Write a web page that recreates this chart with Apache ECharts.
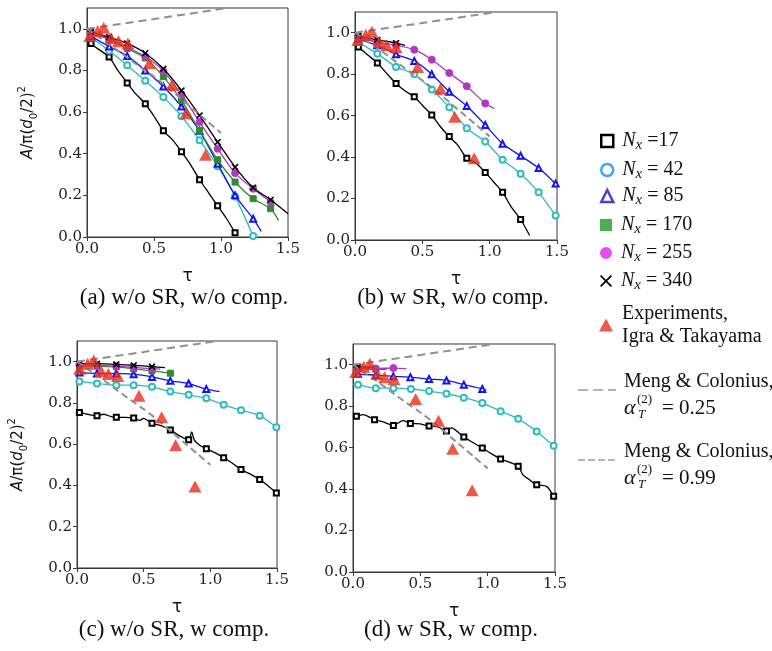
<!DOCTYPE html>
<html><head><meta charset="utf-8">
<script src="https://cdn.jsdelivr.net/npm/echarts@6/dist/echarts.min.js"></script>
<style>html,body{margin:0;padding:0;background:#fff}#c{width:772px;height:651px}</style>
</head><body><div id="c"></div>
<script>
// ---------- tick labels ----------
const xTicks = [0, 0.5, 1.0, 1.5];
const yTicks = [0, 0.2, 0.4, 0.6, 0.8, 1.0];
const captions = ['(a) w/o SR, w/o comp.', '(b) w SR, w/o comp.', '(c) w/o SR, w comp.', '(d) w SR, w comp.'];

// ---------- shared reference data [tau, A] ----------
const experiments = [[0.02,0.965],[0.08,0.99],[0.125,1.005],[0.18,0.955],[0.235,0.94],[0.305,0.93],[0.465,0.835],[0.635,0.73],[0.74,0.595],[0.885,0.395]];
const mengAlpha025 = [[0,1.0],[0.5,1.047],[1.05,1.1]];
const mengAlpha099 = [[0,1.0],[0.1,0.955],[0.2,0.91],[0.3,0.862],[0.4,0.815],[0.5,0.77],[0.6,0.72],[0.7,0.665],[0.8,0.61],[0.9,0.555],[1.0,0.5]];

// third value 0 = point without marker
// ---------- panel (a) ----------
const a_N17 = [[0,0.95,0],[0.03,0.93],[0.09,0.90,0],[0.165,0.865],[0.23,0.80,0],[0.30,0.74],[0.36,0.69,0],[0.435,0.64],[0.50,0.58,0],[0.57,0.51],[0.64,0.465,0],[0.705,0.41],[0.77,0.35,0],[0.84,0.275],[0.91,0.21,0],[0.975,0.15],[1.04,0.09,0],[1.105,0.02]];
const a_N42 = [[0,0.98,0],[0.03,0.96],[0.165,0.895],[0.30,0.825],[0.435,0.75],[0.57,0.672],[0.705,0.58],[0.84,0.465],[0.975,0.34],[1.105,0.195],[1.24,0.005]];
const a_N85 = [[0,0.98,0],[0.03,0.965],[0.165,0.915],[0.30,0.87],[0.435,0.80],[0.57,0.723],[0.705,0.627],[0.84,0.51],[0.975,0.352],[1.105,0.20],[1.24,0.088],[1.30,0.027,0]];
const a_N170 = [[0,0.98,0],[0.03,0.975],[0.165,0.95],[0.30,0.905],[0.435,0.86],[0.57,0.77],[0.705,0.656],[0.84,0.512],[0.975,0.371],[1.105,0.264],[1.24,0.184],[1.37,0.136],[1.43,0.08,0]];
const a_N255 = [[0,0.985,0],[0.03,0.98],[0.165,0.955],[0.30,0.912],[0.435,0.867],[0.57,0.797],[0.705,0.685],[0.84,0.552],[0.975,0.424],[1.105,0.307],[1.24,0.232],[1.37,0.168],[1.40,0.15,0]];
const a_N340 = [[0,0.99,0],[0.03,0.985],[0.165,0.96],[0.30,0.93],[0.435,0.883],[0.57,0.808],[0.705,0.704],[0.84,0.584],[0.975,0.456],[1.105,0.336],[1.24,0.237],[1.37,0.179],[1.5,0.112,0]];

// ---------- panel (b) ----------
const b_N17 = [[0,0.95,0],[0.025,0.931],[0.10,0.89,0],[0.166,0.854],[0.24,0.80,0],[0.305,0.755],[0.37,0.72,0],[0.44,0.691],[0.50,0.65,0],[0.57,0.603],[0.63,0.55,0],[0.70,0.499],[0.76,0.46,0],[0.83,0.395],[0.90,0.37,0],[0.967,0.326],[1.03,0.28,0],[1.096,0.23],[1.16,0.16,0],[1.23,0.099],[1.297,0.022,0]];
const b_N42 = [[0,0.97,0],[0.025,0.955],[0.166,0.899],[0.305,0.835],[0.44,0.80],[0.57,0.726],[0.70,0.64],[0.83,0.539],[0.967,0.475],[1.096,0.387],[1.23,0.32],[1.364,0.23],[1.49,0.118],[1.5,0.11,0]];
const b_N85 = [[0,0.98,0],[0.025,0.97],[0.166,0.939],[0.305,0.896],[0.44,0.864],[0.57,0.80],[0.70,0.715],[0.83,0.646],[0.967,0.555],[1.096,0.464],[1.23,0.406],[1.364,0.347],[1.49,0.272],[1.5,0.265,0]];
const b_N170 = [[0,0.98,0],[0.025,0.975],[0.166,0.955],[0.25,0.945,0]];
const b_N255 = [[0,0.985,0],[0.025,0.98],[0.166,0.955],[0.305,0.939],[0.44,0.918],[0.57,0.870],[0.70,0.806],[0.83,0.742],[0.967,0.659],[1.034,0.635,0]];
const b_N340 = [[0,0.99,0],[0.025,0.985],[0.166,0.966],[0.305,0.95],[0.372,0.939,0]];

// ---------- panel (c) ----------
const c_N17 = [[0,0.75,0],[0.018,0.754],[0.08,0.745,0],[0.15,0.738],[0.2,0.745,0],[0.25,0.735,0],[0.295,0.73],[0.36,0.73,0],[0.425,0.727],[0.47,0.715,0],[0.5,0.725,0],[0.5625,0.701],[0.63,0.69,0],[0.70,0.669],[0.77,0.64,0],[0.8375,0.621],[0.86,0.66,0],[0.88,0.62,0],[0.92,0.595,0],[0.97,0.578],[1.03,0.56,0],[1.10,0.534],[1.16,0.51,0],[1.23,0.477],[1.30,0.455,0],[1.37,0.429],[1.43,0.40,0],[1.495,0.364]];
const c_N42 = [[0,0.905,0],[0.018,0.904],[0.15,0.894],[0.295,0.886],[0.425,0.886],[0.5625,0.878],[0.70,0.855],[0.8375,0.839],[0.97,0.822],[1.10,0.791],[1.23,0.765],[1.37,0.738],[1.495,0.682]];
const c_N85 = [[0,0.95,0],[0.018,0.947],[0.15,0.943],[0.295,0.942],[0.425,0.939],[0.5625,0.926],[0.70,0.907],[0.8375,0.894],[0.97,0.867],[1.07,0.855,0]];
const c_N170 = [[0,0.98,0],[0.018,0.98],[0.15,0.978],[0.295,0.975],[0.425,0.965],[0.5625,0.955],[0.70,0.944]];
const c_N255 = [[0,0.985,0],[0.018,0.985],[0.15,0.982],[0.295,0.978],[0.425,0.972],[0.5625,0.966],[0.625,0.963,0]];
const c_N340 = [[0,0.99,0],[0.018,0.99],[0.15,0.99],[0.295,0.987],[0.425,0.982],[0.5625,0.976],[0.66,0.971,0]];

// ---------- panel (d) ----------
const d_N17 = [[0,0.75,0],[0.025,0.751],[0.075,0.759,0],[0.16,0.735],[0.22,0.725,0],[0.30,0.707],[0.372,0.73,0],[0.426,0.717],[0.5,0.715,0],[0.565,0.704],[0.63,0.70,0],[0.694,0.680],[0.73,0.695,0],[0.823,0.651],[0.89,0.625,0],[0.96,0.598],[1.03,0.57,0],[1.096,0.545],[1.16,0.53,0],[1.227,0.51],[1.26,0.47,0],[1.30,0.45,0],[1.364,0.421],[1.438,0.413,0],[1.49,0.365]];
const d_N42 = [[0,0.905,0],[0.037,0.904],[0.169,0.887],[0.30,0.887],[0.43,0.883],[0.565,0.873],[0.694,0.86],[0.823,0.841],[0.96,0.815],[1.096,0.776],[1.227,0.739],[1.364,0.678],[1.49,0.609],[1.5,0.605,0]];
const d_N85 = [[0,0.96,0],[0.037,0.955],[0.169,0.95],[0.30,0.944],[0.426,0.94],[0.565,0.931],[0.694,0.924],[0.823,0.904],[0.96,0.883],[0.99,0.876,0]];
const d_N170 = [[0,0.98,0],[0.037,0.98],[0.169,0.978],[0.25,0.977,0]];
const d_N255 = [[0,0.985,0],[0.037,0.985],[0.169,0.982],[0.30,0.984],[0.397,0.981,0]];
const d_N340 = [[0,0.99,0],[0.037,0.99],[0.15,0.988,0]];

const panels = [
  [a_N17, a_N42, a_N85, a_N170, a_N255, a_N340],
  [b_N17, b_N42, b_N85, b_N170, b_N255, b_N340],
  [c_N17, c_N42, c_N85, c_N170, c_N255, c_N340],
  [d_N17, d_N42, d_N85, d_N170, d_N255, d_N340]
];

const names = ['Nx17','Nx42','Nx85','Nx170','Nx255','Nx340'];
const crossPath = 'path://M0,1 L1,0 L5,4 L9,0 L10,1 L6,5 L10,9 L9,10 L5,6 L1,10 L0,9 L4,5 Z';
const styles = [
  {color:'#000000', symbol:'emptyRect', size:5},
  {color:'#2fbcc0', symbol:'emptyCircle', size:6},
  {color:'#1414f0', symbol:'emptyTriangle', size:6},
  {color:'#2e8b2e', symbol:'rect', size:6},
  {color:'#b437c2', symbol:'circle', size:7},
  {color:'#000000', symbol:crossPath, size:6}
];

const grids = [
  {left:87, top:8, width:201, height:229},
  {left:355, top:12, width:202, height:228},
  {left:77, top:341, width:200, height:227},
  {left:353, top:344, width:202, height:228}
];

const axisColor = '#3a3a3a';
const fmt = v => v.toFixed(1);
const xAxes = grids.map((g,i)=>({
  type:'value', gridIndex:i, min:0, max:1.5, interval:0.5,
  name:'τ', nameLocation:'middle', nameGap:31,
  nameTextStyle:{fontFamily:'DejaVu Sans', fontSize:17, color:'#111'},
  axisLine:{show:true, lineStyle:{color:axisColor, width:1}},
  axisTick:{show:true, inside:false, length:4, lineStyle:{color:axisColor}, customValues:xTicks},
  axisLabel:{fontFamily:'DejaVu Serif', fontSize:15, color:'#222', margin:5, formatter:fmt, customValues:xTicks},
  splitLine:{show:false}
}));
const yAxes = grids.map((g,i)=>({
  type:'value', gridIndex:i, min:0, max:1.1, interval:0.2,
  name:(i===0||i===2) ? '{i|A}/π({i|d}{s|0}/2){p|2}' : '',
  nameLocation:'middle', nameGap: 48, nameRotate:90,
  nameTextStyle:{fontFamily:'DejaVu Sans', fontSize:15, color:'#111', lineHeight:22,
    rich:{i:{fontFamily:'DejaVu Sans', fontStyle:'italic', fontSize:15, lineHeight:22},
          s:{fontFamily:'DejaVu Sans', fontSize:10, lineHeight:10, verticalAlign:'bottom'},
          p:{fontFamily:'DejaVu Sans', fontSize:10, lineHeight:12, verticalAlign:'top'}}},
  axisLine:{show:true, lineStyle:{color:axisColor, width:1}},
  axisTick:{show:true, inside:false, length:4, lineStyle:{color:axisColor}, customValues:yTicks},
  axisLabel:{fontFamily:'DejaVu Serif', fontSize:15, color:'#222', margin:5, formatter:fmt, customValues:yTicks},
  splitLine:{show:false}
}));

const series = [];
panels.forEach((curves, gi) => {
  curves.forEach((data, k) => {
    const st = styles[k];
    series.push({
      type:'line', name:names[k], xAxisIndex:gi, yAxisIndex:gi, data:data,
      smooth:0.25, showAllSymbol:true, symbol:st.symbol,
      symbolSize:(v)=> (v.length>2 && v[2]===0) ? 0 : st.size,
      lineStyle:{color:st.color, width:1.3},
      itemStyle:{color:st.color, borderColor:st.color, borderWidth:1},
      z:2+k, silent:true
    });
  });
  series.push({type:'line', name:'meng025', xAxisIndex:gi, yAxisIndex:gi, data:mengAlpha025, symbol:'none',
    lineStyle:{color:'#8f8f8f', width:2, type:[8,5]}, z:9, silent:true});
  series.push({type:'line', name:'meng099', xAxisIndex:gi, yAxisIndex:gi, data:mengAlpha099, symbol:'none', smooth:0.2,
    lineStyle:{color:'#8f8f8f', width:2, type:[7,4]}, z:9, silent:true});
  series.push({type:'scatter', name:'exp', xAxisIndex:gi, yAxisIndex:gi, data:experiments, symbol:'triangle', symbolSize:[13,12],
    itemStyle:{color:'#e8301c'}, z:12, silent:true});
});

// ---------- legend ----------
const legendLabels = {
  Nx17:'{i|N}{s|x}{t| =17}', Nx42:'{i|N}{s|x}{t| = 42}', Nx85:'{i|N}{s|x}{t| = 85}',
  Nx170:'{i|N}{s|x}{t| = 170}', Nx255:'{i|N}{s|x}{t| = 255}', Nx340:'{i|N}{s|x}{t| = 340}',
  exp:'Experiments,\nIgra & Takayama'
};
const legendIcons = [
  {name:'Nx17', icon:'rect', itemStyle:{color:'#ffffff', borderColor:'#000', borderWidth:2.5}},
  {name:'Nx42', icon:'circle', itemStyle:{color:'#ffffff', borderColor:'#3ea8f2', borderWidth:2.5}},
  {name:'Nx85', icon:'triangle', itemStyle:{color:'#ffffff', borderColor:'#4a3ed8', borderWidth:2.5}},
  {name:'Nx170', icon:'rect', itemStyle:{color:'#4caf50', borderWidth:0}},
  {name:'Nx255', icon:'circle', itemStyle:{color:'#e74ef2', borderWidth:0}},
  {name:'Nx340', icon:crossPath, itemStyle:{color:'#000', borderWidth:0}},
  {name:'exp', icon:'triangle', itemStyle:{color:'#e8301c', borderWidth:0}}
];
const legendRowY = [141, 170, 196, 225, 253, 281, 325];
const legendTxt = {fontFamily:'Liberation Serif', fontSize:20, color:'#111', lineHeight:23, padding:[0,0,0,4],
  rich:{i:{fontFamily:'Liberation Serif', fontStyle:'italic', fontSize:20, lineHeight:24},
        s:{fontFamily:'Liberation Serif', fontStyle:'italic', fontSize:15, lineHeight:14, verticalAlign:'bottom'},
        t:{fontFamily:'Liberation Serif', fontSize:20, lineHeight:24}}};
const legends = legendIcons.map((it, i) => {
  const big = it.name === 'exp';
  const h = big ? 46 : 24;
  return {
    left: big ? 599 : 600, top: legendRowY[i] - h/2, padding:0, orient:'vertical', selectedMode:false,
    itemWidth: big ? 14 : 12, itemHeight: big ? 13 : 12,
    data:[it], formatter:(n)=>legendLabels[n], textStyle:legendTxt
  };
});

// ---------- graphics: captions + Meng legend entries ----------
const graphic = [];
const capPos = [[184,298],[453,298],[174,630],[451,630]];
captions.forEach((t,i)=>graphic.push({type:'text', x:capPos[i][0], y:capPos[i][1],
  style:{text:t, font:'23px "Liberation Serif"', fill:'#111', align:'center', verticalAlign:'middle'}}));
const mengEntries = [{y:382, dash:[10,5], val:'= 0.25', ly:390}, {y:452, dash:[7,3], val:'= 0.99', ly:460}];
mengEntries.forEach(m=>{
  graphic.push({type:'line', shape:{x1:578, y1:m.ly, x2:616, y2:m.ly}, style:{stroke:'#9a9a9a', lineWidth:1.5, lineDash:m.dash}});
  graphic.push({type:'text', x:624, y:m.y, style:{text:'Meng & Colonius,', font:'20px "Liberation Serif"', fill:'#111', align:'left', verticalAlign:'middle'}});
  graphic.push({type:'text', x:624, y:m.y+26, style:{text:'α', font:'italic 22px "Liberation Serif"', fill:'#111', align:'left', verticalAlign:'middle'}});
  graphic.push({type:'text', x:638, y:m.y+33, style:{text:'T', font:'italic 13px "Liberation Serif"', fill:'#111', align:'left', verticalAlign:'middle'}});
  graphic.push({type:'text', x:637, y:m.y+18, style:{text:'(2)', font:'13px "Liberation Serif"', fill:'#111', align:'left', verticalAlign:'middle'}});
  graphic.push({type:'text', x:662, y:m.y+26, style:{text:m.val, font:'21px "Liberation Serif"', fill:'#111', align:'left', verticalAlign:'middle'}});
});

const chart = echarts.init(document.getElementById('c'), null, {renderer:'canvas'});
chart.setOption({
  animation:false,
  backgroundColor:'#ffffff',
  grid: grids.map(g=>Object.assign({show:true, borderColor:axisColor, borderWidth:1, backgroundColor:'transparent'}, g)),
  xAxis: xAxes,
  yAxis: yAxes,
  legend: legends,
  series: series,
  graphic: graphic
});
</script></body></html>
